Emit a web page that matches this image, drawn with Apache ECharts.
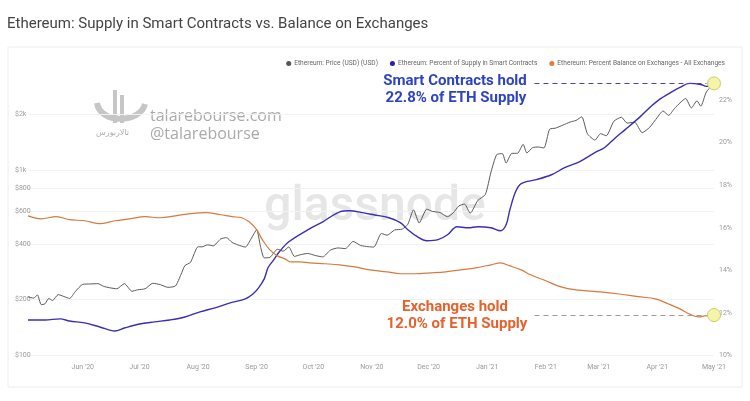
<!DOCTYPE html>
<html>
<head>
    <meta charset="utf-8"/>
    <script src="https://cdn.jsdelivr.net/npm/echarts@6/dist/echarts.min.js"></script>
    <style>
        html, body { margin: 0; padding: 0; background: #fff; }
    </style>
</head>
<body>
<div id="main" style="width: 750px;height:401px;"></div>
<script type="text/javascript">
    // tick labels
    var monthTicks = ['2020-06-01', '2020-07-01', '2020-08-01', '2020-09-01', '2020-10-01', '2020-11-01',
        '2020-12-01', '2021-01-01', '2021-02-01', '2021-03-01', '2021-04-01', '2021-05-01'];
    var priceTicks = [100, 200, 400, 600, 800, 1000, 2000];
    var pctTicks = [10, 12, 14, 16, 18, 20, 22];
    var monthNames = ['Jan', 'Feb', 'Mar', 'Apr', 'May', 'Jun', 'Jul', 'Aug', 'Sep', 'Oct', 'Nov', 'Dec'];

    // Ethereum price (USD)
    var priceDates = ['2020-05-03', '2020-05-06', '2020-05-08', '2020-05-10', '2020-05-12', '2020-05-14', '2020-05-16',
        '2020-05-19', '2020-05-22', '2020-05-25', '2020-05-28', '2020-06-01', '2020-06-05', '2020-06-09', '2020-06-12',
        '2020-06-15', '2020-06-19', '2020-06-23', '2020-06-27', '2020-06-30', '2020-07-04', '2020-07-08', '2020-07-12',
        '2020-07-16', '2020-07-20', '2020-07-23', '2020-07-25', '2020-07-28', '2020-08-01', '2020-08-03', '2020-08-06',
        '2020-08-09', '2020-08-13', '2020-08-16', '2020-08-19', '2020-08-22', '2020-08-26', '2020-08-29', '2020-09-01',
        '2020-09-03', '2020-09-05', '2020-09-08', '2020-09-12', '2020-09-15', '2020-09-18', '2020-09-21', '2020-09-24',
        '2020-09-28', '2020-10-02', '2020-10-06', '2020-10-10', '2020-10-14', '2020-10-18', '2020-10-22', '2020-10-26',
        '2020-10-30', '2020-11-02', '2020-11-06', '2020-11-09', '2020-11-13', '2020-11-17', '2020-11-20', '2020-11-23',
        '2020-11-26', '2020-11-30', '2020-12-03', '2020-12-07', '2020-12-11', '2020-12-14', '2020-12-17', '2020-12-20',
        '2020-12-23', '2020-12-27', '2020-12-31', '2021-01-03', '2021-01-06', '2021-01-09', '2021-01-11', '2021-01-14',
        '2021-01-17', '2021-01-20', '2021-01-22', '2021-01-25', '2021-01-28', '2021-01-31', '2021-02-03', '2021-02-06',
        '2021-02-10', '2021-02-14', '2021-02-17', '2021-02-20', '2021-02-23', '2021-02-27', '2021-03-02', '2021-03-05',
        '2021-03-09', '2021-03-13', '2021-03-16', '2021-03-20', '2021-03-24', '2021-03-28', '2021-04-01', '2021-04-04',
        '2021-04-07', '2021-04-10', '2021-04-13', '2021-04-16', '2021-04-19', '2021-04-22', '2021-04-24', '2021-04-27',
        '2021-05-01'];
    var priceValues = [207, 204, 212, 188, 190, 203, 198,
        213, 208, 203, 221, 242, 243, 244, 236,
        232, 229, 244, 222, 226, 229, 245, 241,
        233, 237, 274, 305, 318, 386, 385, 395,
        390, 425, 432, 407, 395, 384, 425, 476,
        388, 336, 338, 374, 365, 385, 342, 349,
        355, 346, 340, 370, 380, 377, 412, 392,
        386, 384, 455, 445, 475, 480, 510, 610,
        518, 615, 598, 590, 560, 587, 640, 655,
        585, 685, 738, 975, 1210, 1225, 1090, 1230,
        1230, 1375, 1235, 1320, 1330, 1315, 1660, 1680,
        1745, 1815, 1850, 1935, 1570, 1450, 1570, 1530,
        1830, 1925, 1790, 1810, 1590, 1700, 1920, 2080,
        1970, 2140, 2300, 2430, 2160, 2360, 2210, 2640,
        2920];

    // percent of supply in smart contracts
    var scDates = ['2020-05-03', '2020-05-12', '2020-05-20', '2020-05-25', '2020-06-02', '2020-06-10', '2020-06-18',
        '2020-06-23', '2020-07-01', '2020-07-09', '2020-07-17', '2020-07-25', '2020-08-02', '2020-08-10', '2020-08-18',
        '2020-08-26', '2020-08-30', '2020-09-02', '2020-09-05', '2020-09-07', '2020-09-10', '2020-09-13', '2020-09-18',
        '2020-09-28', '2020-10-06', '2020-10-15', '2020-10-20', '2020-10-27', '2020-11-02', '2020-11-10', '2020-11-16',
        '2020-11-20', '2020-11-25', '2020-11-30', '2020-12-06', '2020-12-11', '2020-12-16', '2020-12-22', '2020-12-27',
        '2021-01-03', '2021-01-08', '2021-01-11', '2021-01-13', '2021-01-16', '2021-01-19', '2021-01-27', '2021-02-04',
        '2021-02-11', '2021-02-19', '2021-02-27', '2021-03-04', '2021-03-10', '2021-03-15', '2021-03-23', '2021-03-28',
        '2021-04-02', '2021-04-08', '2021-04-13', '2021-04-18', '2021-04-24', '2021-04-27', '2021-05-01'];
    var scValues = [11.67, 11.67, 11.72, 11.62, 11.53, 11.34, 11.15,
        11.29, 11.48, 11.58, 11.67, 11.81, 12.05, 12.24, 12.47,
        12.66, 12.89, 13.18, 13.6, 14.12, 14.49, 14.87, 15.34,
        15.9, 16.28, 16.75, 16.8, 16.71, 16.61, 16.47, 16.24,
        15.91, 15.58, 15.39, 15.44, 15.67, 16.05, 16.0, 16.05,
        16.0, 15.86, 16.14, 16.85, 17.69, 18.07, 18.26, 18.49,
        18.82, 19.11, 19.53, 19.76, 20.24, 20.61, 21.22, 21.65,
        22.02, 22.35, 22.59, 22.78, 22.73, 22.64, 22.78];

    // percent balance on exchanges
    var exDates = ['2020-05-03', '2020-05-10', '2020-05-18', '2020-05-25', '2020-06-02', '2020-06-10', '2020-06-18',
        '2020-06-26', '2020-07-04', '2020-07-12', '2020-07-20', '2020-07-28', '2020-08-05', '2020-08-13', '2020-08-19',
        '2020-08-24', '2020-08-28', '2020-09-01', '2020-09-04', '2020-09-08', '2020-09-12', '2020-09-16', '2020-09-19',
        '2020-09-24', '2020-09-29', '2020-10-07', '2020-10-15', '2020-10-23', '2020-10-31', '2020-11-09', '2020-11-16',
        '2020-11-24', '2020-12-02', '2020-12-10', '2020-12-18', '2020-12-26', '2021-01-03', '2021-01-08', '2021-01-13',
        '2021-01-19', '2021-01-24', '2021-02-01', '2021-02-09', '2021-02-17', '2021-03-02', '2021-03-12', '2021-03-23',
        '2021-03-31', '2021-04-07', '2021-04-13', '2021-04-18', '2021-04-23', '2021-04-26', '2021-05-01'];
    var exValues = [16.56, 16.42, 16.52, 16.38, 16.33, 16.19, 16.33,
        16.42, 16.52, 16.47, 16.56, 16.66, 16.71, 16.61, 16.52,
        16.47, 16.28, 15.91, 15.44, 14.96, 14.68, 14.54, 14.4,
        14.4, 14.35, 14.31, 14.26, 14.16, 14.02, 13.93, 13.84,
        13.84, 13.88, 13.93, 14.02, 14.12, 14.26, 14.35, 14.21,
        14.02, 13.79, 13.51, 13.22, 13.08, 12.99, 12.89, 12.75,
        12.66, 12.42, 12.19, 11.95, 11.81, 11.86, 11.9];

    function ts(s) {
        return +new Date(s + 'T00:00:00');
    }
    function zip(a, b) {
        return a.map(function (d, i) { return [ts(d), b[i]]; });
    }

    var myChart = echarts.init(document.getElementById('main'));
    var font = 'Roboto';
    var logoGray = '#c6c6c6';

    option = {
        animation: false,
        backgroundColor: '#fff',
        title: {
            text: 'Ethereum: Supply in Smart Contracts vs. Balance on Exchanges',
            left: 2,
            top: 12,
            textStyle: {fontFamily: font, fontSize: 15, fontWeight: 'normal', color: '#444'}
        },
        legend: {
            right: 20,
            top: 55,
            icon: 'circle',
            itemWidth: 5,
            itemHeight: 5,
            itemGap: 12,
            textStyle: {fontFamily: font, fontSize: 6.6, color: '#666', padding: [0, 0, 0, -2]},
            data: ['Ethereum: Price (USD) (USD)', 'Ethereum: Percent of Supply in Smart Contracts',
                'Ethereum: Percent Balance on Exchanges - All Exchanges']
        },
        grid: {left: 28, right: 36, top: 60, bottom: 45.5},
        xAxis: {
            type: 'value',
            min: ts('2020-05-03'),
            max: ts('2021-05-01'),
            axisLine: {show: false},
            axisTick: {show: false},
            splitLine: {show: false},
            axisLabel: {
                customValues: monthTicks.map(ts),
                formatter: function (v) {
                    var d = new Date(v);
                    return monthNames[d.getMonth()] + " '" + String(d.getFullYear()).slice(2);
                },
                fontFamily: font,
                fontSize: 7,
                color: '#999',
                margin: 8
            }
        },
        yAxis: [{
            type: 'log',
            logBase: 10,
            min: 100,
            max: 3917,
            position: 'left',
            axisLine: {show: false},
            axisTick: {show: false, customValues: priceTicks},
            axisLabel: {
                customValues: priceTicks,
                formatter: function (v) {
                    return v >= 1000 ? '$' + (v / 1000) + 'k' : '$' + v;
                },
                align: 'left',
                margin: 13,
                fontFamily: font,
                fontSize: 7,
                color: '#999'
            },
            splitLine: {show: true, lineStyle: {color: '#f2f2f2', width: 1}}
        }, {
            type: 'value',
            min: 10,
            max: 23.88,
            interval: 2,
            position: 'right',
            axisLine: {show: false},
            axisTick: {show: false},
            splitLine: {show: false},
            axisLabel: {
                customValues: pctTicks,
                formatter: '{value}%',
                align: 'left',
                margin: 5,
                fontFamily: font,
                fontSize: 7,
                color: '#999'
            }
        }],
        series: [{
            name: 'Ethereum: Price (USD) (USD)',
            type: 'line',
            yAxisIndex: 0,
            data: zip(priceDates, priceValues),
            showSymbol: false,
            smooth: 0.2,
            color: '#555',
            lineStyle: {width: 1, color: '#5a5a5a'},
            z: 3
        }, {
            name: 'Ethereum: Percent of Supply in Smart Contracts',
            type: 'line',
            yAxisIndex: 1,
            data: zip(scDates, scValues),
            showSymbol: false,
            smooth: 0.35,
            color: '#2a1eaa',
            lineStyle: {width: 1.4, color: '#3a2db8'},
            z: 4,
            markLine: {
                silent: true,
                symbol: 'none',
                label: {show: false},
                lineStyle: {type: [5, 4], color: '#3d45c4', width: 1},
                data: [[{coord: [ts('2021-01-26'), 22.8]}, {coord: [ts('2021-04-27'), 22.8]}]]
            },
            markPoint: {
                silent: true,
                symbol: 'circle',
                symbolSize: 13,
                label: {show: false},
                itemStyle: {color: '#f5f4ab', borderColor: '#cfcc62', borderWidth: 1},
                data: [{coord: [ts('2021-05-01'), 22.78]}]
            }
        }, {
            name: 'Ethereum: Percent Balance on Exchanges - All Exchanges',
            type: 'line',
            yAxisIndex: 1,
            data: zip(exDates, exValues),
            showSymbol: false,
            smooth: 0.35,
            color: '#e07b39',
            lineStyle: {width: 1.2, color: '#d67a3e'},
            z: 4,
            markLine: {
                silent: true,
                symbol: 'none',
                label: {show: false},
                lineStyle: {type: [5, 4], color: '#9a9a9a', width: 1},
                data: [[{coord: [ts('2021-01-26'), 11.9]}, {coord: [ts('2021-04-27'), 11.9]}]]
            },
            markPoint: {
                silent: true,
                symbol: 'circle',
                symbolSize: 13,
                label: {show: false},
                itemStyle: {color: '#f5f4ab', borderColor: '#cfcc62', borderWidth: 1},
                data: [{coord: [ts('2021-05-01'), 11.9]}]
            }
        }],
        graphic: [
            // card frame
            {type: 'rect', shape: {x: 8, y: 47, width: 734, height: 340}, silent: true, z: -10,
                style: {fill: 'none', stroke: '#ececec', lineWidth: 1}},
            // glassnode watermark
            {type: 'text', x: 375, y: 208, silent: true, z: -5,
                style: {text: 'glassnode', fontFamily: font, fontSize: 48, fontWeight: 500,
                    fill: '#e6e6e6', align: 'center', verticalAlign: 'middle'}},
            // talarebourse watermark
            {type: 'bezierCurve', silent: true, z: -5,
                shape: {x1: 97, y1: 103, cpx1: 100, cpy1: 124, cpx2: 140, cpy2: 124, x2: 145, y2: 104},
                style: {fill: 'none', stroke: logoGray, lineWidth: 6}},
            {type: 'rect', shape: {x: 113, y: 90, width: 4, height: 33}, silent: true, z: -5, style: {fill: logoGray}},
            {type: 'rect', shape: {x: 120, y: 95, width: 4, height: 28}, silent: true, z: -5, style: {fill: logoGray}},
            {type: 'text', x: 96, y: 133, silent: true, z: -5,
                style: {text: 'تالاربورس', fontFamily: 'DejaVu Sans', fontSize: 8, fill: '#aaa', verticalAlign: 'middle'}},
            {type: 'text', x: 150, y: 116, silent: true, z: -5,
                style: {text: 'talarebourse.com', fontFamily: 'Open Sans', fontSize: 16, fill: '#aaa', verticalAlign: 'middle'}},
            {type: 'text', x: 150, y: 134, silent: true, z: -5,
                style: {text: '@talarebourse', fontFamily: 'Open Sans', fontSize: 16, fill: '#aaa', verticalAlign: 'middle'}},
            // annotations
            {type: 'text', x: 455, y: 81, silent: true, z: 10,
                style: {text: 'Smart Contracts hold', fontFamily: font, fontSize: 15, fontWeight: 'bold',
                    fill: '#2d43c4', align: 'center', verticalAlign: 'middle'}},
            {type: 'text', x: 456, y: 98, silent: true, z: 10,
                style: {text: '22.8% of ETH Supply', fontFamily: font, fontSize: 15, fontWeight: 'bold',
                    fill: '#2d43c4', align: 'center', verticalAlign: 'middle'}},
            {type: 'text', x: 455, y: 307, silent: true, z: 10,
                style: {text: 'Exchanges hold', fontFamily: font, fontSize: 15, fontWeight: 'bold',
                    fill: '#e6612b', align: 'center', verticalAlign: 'middle'}},
            {type: 'text', x: 457, y: 324, silent: true, z: 10,
                style: {text: '12.0% of ETH Supply', fontFamily: font, fontSize: 15, fontWeight: 'bold',
                    fill: '#e6612b', align: 'center', verticalAlign: 'middle'}}
        ]
    };

    myChart.setOption(option);
</script>
</body>
</html>
